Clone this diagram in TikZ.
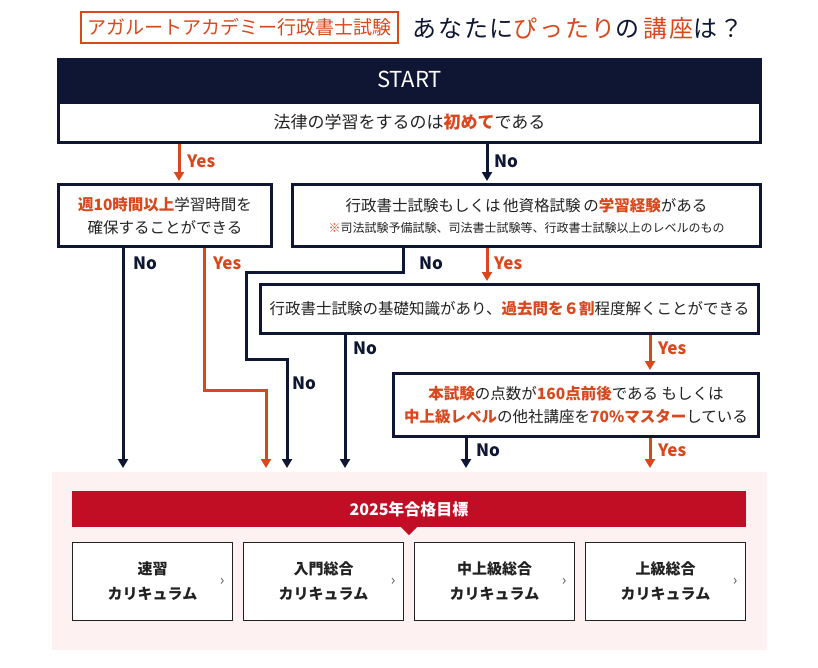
\documentclass[tikz,border=0pt]{standalone}
\usepackage{fontspec}
\setmainfont{Noto Sans CJK JP}
\usetikzlibrary{arrows.meta}
\definecolor{navy}{HTML}{0E1633}
\definecolor{acc}{HTML}{D9481C}
\definecolor{band}{HTML}{C20E24}
\definecolor{blush}{HTML}{FDF1F1}
\definecolor{ink}{HTML}{222222}
\newcommand{\hlt}[1]{{\color{acc}\bfseries #1}}

\begin{document}
\begin{tikzpicture}[x=1pt,y=-1pt]
\tikzstyle{qbox}=[rectangle, draw=navy, line width=3pt, fill=white, text=ink, align=center, inner sep=0pt, font=\fontsize{15.5}{23}\selectfont]
\tikzstyle{yes}=[draw=acc, line width=3pt, -{Triangle[width=10pt,length=9pt]}]
\tikzstyle{no}=[yes, draw=navy]
\tikzstyle{ylab}=[anchor=west, inner sep=0pt, text=acc, font=\fontsize{17}{17}\selectfont\bfseries]
\tikzstyle{nlab}=[ylab, text=navy]
\tikzstyle{course}=[rectangle, draw=ink, line width=1.2pt, fill=white, minimum width=160pt, minimum height=78pt, align=center, text=ink, font=\fontsize{15}{25}\selectfont\bfseries]
\tikzstyle{chev}=[inner sep=0pt, text=black!65, font=\fontsize{15}{15}\selectfont]
  \useasboundingbox (0,0) rectangle (818,667);
  % heading
  \node[draw=acc, line width=1.5pt, text=acc, minimum width=317pt, minimum height=31pt, inner sep=0pt, font=\fontsize{19}{19}\selectfont] (brand) at (239.5,27.5) {アガルートアカデミー行政書士試験};
  \node[anchor=west, inner sep=0pt, text=navy, font=\fontsize{24}{24}\selectfont\addfontfeatures{LetterSpace=8}] (title) at (412,28) {あなたに\textcolor{acc}{ぴったり}の\,\textcolor{acc}{講座}は？};
  % questions
  \node[fill=navy, text=white, minimum width=705pt, minimum height=43pt, inner sep=0pt, font=\fontsize{22}{22}\selectfont] (start) at (409.5,79.5) {START};
  \node[qbox, minimum width=702pt, minimum height=40pt, font=\fontsize{17}{20}\selectfont] (q1) at (409.5,122.5) {法律の学習をするのは\hlt{初めて}である};
  \node[qbox, minimum width=213pt, minimum height=62pt] (q2) at (165,215.5) {\hlt{週10時間以上}学習時間を\\確保することができる};
  \node[qbox, minimum width=468pt, minimum height=62pt] (q3) at (526.5,215.5) {行政書士試験もしくは\,他資格試験\,の\hlt{学習経験}がある\\[-2pt]{\fontsize{12}{14}\selectfont\textcolor{acc}{※}司法試験予備試験、司法書士試験等、行政書士試験以上のレベルのもの}};
  \node[qbox, minimum width=498pt, minimum height=49pt] (q4) at (509.5,309) {行政書士試験の基礎知識があり、\hlt{過去問を６割}程度解くことができる};
  \node[qbox, minimum width=365pt, minimum height=63pt] (q5) at (576,405) {\hlt{本試験}の点数が\hlt{160点前後}である もしくは\\\hlt{中上級レベル}の他社講座を\hlt{70\%マスター}している};
  % result panel
  \fill[blush] (52,472) rectangle (767,650);
  \node[fill=band, text=white, minimum width=674pt, minimum height=36pt, inner sep=0pt, font=\fontsize{16}{16}\selectfont\bfseries] (goal) at (409,509) {2025年合格目標};
  \fill[band] ([xshift=-8pt]goal.south) -- ([xshift=8pt]goal.south) -- ([yshift=-8pt]goal.south) -- cycle;
  \foreach \name [count=\i from 0] in {速習, 入門総合, 中上級総合, 上級総合} {
    \node[course] (c\i) at (152.5+171*\i,581.5) {\name\\カリキュラム};
    \node[chev, xshift=-11pt] (v\i) at (c\i.east) {›};
  }
  % connector ends
  \coordinate (x1) at (179,0);
  \coordinate (x2) at (487,0);
  \coordinate (x3) at (650,0);
  \coordinate (e1) at (123,468);
  \coordinate (e2) at (266,468);
  \coordinate (e3) at (287,468);
  \coordinate (e4) at (345,468);
  \coordinate (e5) at (466,468);
  \coordinate (e6) at (650,468);
  \coordinate (kA) at (204,390);
  \coordinate (kB) at (403,272);
  \coordinate (kC) at (246,359);
  % connectors
  \draw[yes, shorten >=2pt] (q1.south -| x1) -- (q2.north -| x1);
  \draw[no, shorten >=2pt] (q1.south -| x2) -- (q3.north -| x2);
  \draw[no] (q2.south -| e1) -- (e1);
  \draw[yes] (q2.south -| kA) |- (e2 |- kA) -- (e2);
  \draw[no] (q3.south -| kB) -- (kB) -| (kC) -| (e3);
  \draw[yes, shorten >=2pt] (q3.south -| x2) -- (q4.north -| x2);
  \draw[no] (q4.south -| e4) -- (e4);
  \draw[yes, shorten >=2pt] (q4.south -| x3) -- (q5.north -| x3);
  \draw[no] (q5.south -| e5) -- (e5);
  \draw[yes] (q5.south -| e6) -- (e6);
  % labels
  \node[ylab] (l1) at (187,161) {Yes};
  \node[nlab] (l2) at (494,161) {No};
  \node[nlab] (l3) at (133,263) {No};
  \node[ylab] (l4) at (213,263) {Yes};
  \node[nlab] (l5) at (419,263) {No};
  \node[ylab] (l6) at (494,263) {Yes};
  \node[nlab] (l7) at (353,348) {No};
  \node[ylab] (l8) at (658,348) {Yes};
  \node[nlab] (l9) at (292,383) {No};
  \node[nlab] (l10) at (476,450) {No};
  \node[ylab] (l11) at (658,450) {Yes};
\end{tikzpicture}
\end{document}
